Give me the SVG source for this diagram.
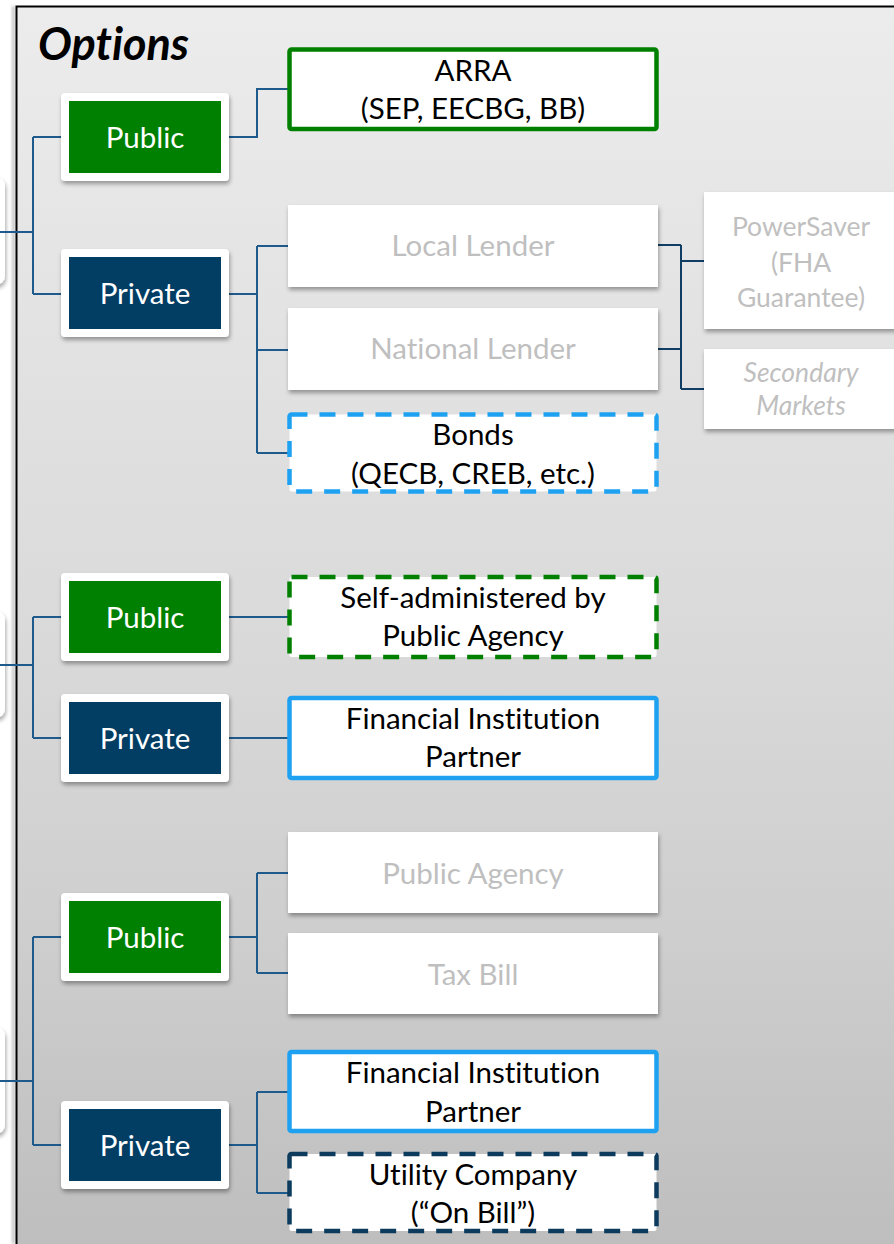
<svg xmlns="http://www.w3.org/2000/svg" width="894" height="1244" viewBox="0 0 894 1244">
  <defs>
    <linearGradient id="panelFill" x1="0" y1="0" x2="0" y2="1">
      <stop offset="0" stop-color="#ececec"/>
      <stop offset="0.5" stop-color="#dadada"/>
      <stop offset="0.75" stop-color="#cecece"/>
      <stop offset="1" stop-color="#bebebe"/>
    </linearGradient>
    <filter id="shadow" x="-10%" y="-15%" width="125%" height="140%">
      <feDropShadow dx="1" dy="3" stdDeviation="2" flood-color="#000" flood-opacity="0.35"/>
    </filter>
    <filter id="soft" x="-50%" y="-5%" width="200%" height="110%">
      <feGaussianBlur stdDeviation="1.5"/>
    </filter>
  </defs>
  <style>
    text { font-family: Lato, "Open Sans", "Liberation Sans", sans-serif; text-anchor: middle; font-variant-ligatures: none; }
    .title { font-size: 45px; font-weight: bold; font-style: italic; fill: #000; }
    .label { font-size: 29.5px; fill: #000; }
    .nodeLabel { font-size: 29.5px; fill: #fff; }
    .dim { font-size: 29.5px; fill: #bfbfbf; }
    .dimSmall { font-size: 26.5px; fill: #bfbfbf; }
    .card { fill: #fff; filter: url(#shadow); }
    .pub { fill: #008000; }
    .priv { fill: #023d64; }
    .box { fill: #fff; stroke-width: 4.5; }
    .green { stroke: #008000; }
    .sky { stroke: #1fa1f2; }
    .navy { stroke: #0d3b5e; }
    .dash { stroke-dasharray: 16 12; }
    .conn { fill: none; stroke: #1f5a8c; stroke-width: 2; }
    .connDark { fill: none; stroke: #0f3d63; stroke-width: 2; }
  </style>

  <!-- page and framed panel -->
  <rect x="0" y="0" width="894" height="1244" fill="#fff"/>
  <rect x="16" y="6" width="878" height="1238" fill="url(#panelFill)"/>
  <rect x="12" y="6" width="3" height="1238" fill="#999" filter="url(#soft)" opacity="0.6"/>
  <path d="M16.5 1244 V6.5 H894" fill="none" stroke="#000" stroke-width="2"/>

  <!-- parent cards cut off at the left edge -->
  <g id="parent-1"><rect class="card" x="-30" y="177" width="35" height="108" rx="9"/></g>
  <g id="parent-2"><rect class="card" x="-30" y="611" width="35" height="107" rx="9"/></g>
  <g id="parent-3"><rect class="card" x="-30" y="1027" width="35" height="107" rx="9"/></g>

  <text class="title" x="113.5" y="60">Options</text>

  <!-- connectors -->
  <g id="connectors">
    <path class="conn" d="M0 232 H33 M33 137 V294 M33 137 H61 M33 294 H61"/>
    <path class="conn" d="M229 137 H257 V89 H289"/>
    <path class="conn" d="M229 294 H257 M257 246 V453 M257 246 H289 M257 350 H289 M257 453 H289"/>
    <path class="connDark" d="M658 245 H681 M658 349 H681 M681 245 V389 M681 261 H704 M681 389 H704"/>

    <path class="conn" d="M0 665 H33 M33 617 V738 M33 617 H61 M33 738 H61"/>
    <path class="conn" d="M229 617 H289 M229 738 H289"/>

    <path class="conn" d="M0 1081 H33 M33 937 V1145 M33 937 H61 M33 1145 H61"/>
    <path class="conn" d="M229 937 H257 M257 873 V973 M257 873 H289 M257 973 H289"/>
    <path class="conn" d="M229 1145 H257 M257 1092 V1193 M257 1092 H289 M257 1193 H289"/>
  </g>

  <!-- group 1 -->
  <g id="public-1">
    <rect class="card" x="61" y="93" width="168" height="88" rx="4"/>
    <rect class="pub" x="69" y="101" width="152" height="72"/>
    <text class="nodeLabel" x="145" y="147.5">Public</text>
  </g>
  <g id="private-1">
    <rect class="card" x="61" y="249" width="168" height="88" rx="4"/>
    <rect class="priv" x="69" y="257" width="152" height="72"/>
    <text class="nodeLabel" x="145" y="303.5">Private</text>
  </g>
  <g id="arra">
    <rect class="box green" x="289.5" y="49.5" width="367" height="79.5" rx="2"/>
    <text class="label" x="473" y="81">ARRA</text>
    <text class="label" x="473" y="119">(SEP, EECBG, BB)</text>
  </g>
  <g id="local-lender">
    <rect class="card" x="288" y="205" width="370" height="82"/>
    <text class="dim" x="473" y="256">Local Lender</text>
  </g>
  <g id="national-lender">
    <rect class="card" x="288" y="308" width="370" height="82"/>
    <text class="dim" x="473" y="359">National Lender</text>
  </g>
  <g id="bonds">
    <rect class="box sky dash" x="289.5" y="414.5" width="367" height="77" rx="2"/>
    <text class="label" x="473" y="445">Bonds</text>
    <text class="label" x="473" y="484">(QECB, CREB, etc.)</text>
  </g>
  <g id="powersaver">
    <rect class="card" x="704" y="192" width="200" height="137"/>
    <text class="dimSmall" x="801" y="236">PowerSaver</text>
    <text class="dimSmall" x="801" y="272">(FHA</text>
    <text class="dimSmall" x="801" y="307">Guarantee)</text>
  </g>
  <g id="secondary-markets">
    <rect class="card" x="704" y="349" width="200" height="80"/>
    <text class="dimSmall" x="801" y="382" font-style="italic">Secondary</text>
    <text class="dimSmall" x="801" y="415" font-style="italic">Markets</text>
  </g>

  <!-- group 2 -->
  <g id="public-2">
    <rect class="card" x="61" y="573" width="168" height="88" rx="4"/>
    <rect class="pub" x="69" y="581" width="152" height="72"/>
    <text class="nodeLabel" x="145" y="627.5">Public</text>
  </g>
  <g id="private-2">
    <rect class="card" x="61" y="694" width="168" height="88" rx="4"/>
    <rect class="priv" x="69" y="702" width="152" height="72"/>
    <text class="nodeLabel" x="145" y="748.5">Private</text>
  </g>
  <g id="self-administered">
    <rect class="box green dash" x="289.5" y="577" width="367" height="80" rx="2"/>
    <text class="label" x="473" y="608">Self-administered by</text>
    <text class="label" x="473" y="646">Public Agency</text>
  </g>
  <g id="financial-partner-2">
    <rect class="box sky" x="289.5" y="698" width="367" height="80" rx="2"/>
    <text class="label" x="473" y="729">Financial Institution</text>
    <text class="label" x="473" y="767">Partner</text>
  </g>

  <!-- group 3 -->
  <g id="public-3">
    <rect class="card" x="61" y="893" width="168" height="88" rx="4"/>
    <rect class="pub" x="69" y="901" width="152" height="72"/>
    <text class="nodeLabel" x="145" y="947.5">Public</text>
  </g>
  <g id="private-3">
    <rect class="card" x="61" y="1101" width="168" height="88" rx="4"/>
    <rect class="priv" x="69" y="1109" width="152" height="72"/>
    <text class="nodeLabel" x="145" y="1155.5">Private</text>
  </g>
  <g id="public-agency">
    <rect class="card" x="288" y="832" width="370" height="81"/>
    <text class="dim" x="473" y="884">Public Agency</text>
  </g>
  <g id="tax-bill">
    <rect class="card" x="288" y="933" width="370" height="81"/>
    <text class="dim" x="473" y="985">Tax Bill</text>
  </g>
  <g id="financial-partner-3">
    <rect class="box sky" x="289.5" y="1052" width="367" height="79" rx="2"/>
    <text class="label" x="473" y="1083">Financial Institution</text>
    <text class="label" x="473" y="1122">Partner</text>
  </g>
  <g id="utility-company">
    <rect class="box navy dash" x="289.5" y="1154" width="367" height="77" rx="2"/>
    <text class="label" x="473" y="1185">Utility Company</text>
    <text class="label" x="473" y="1223">(“On Bill”)</text>
  </g>
</svg>
